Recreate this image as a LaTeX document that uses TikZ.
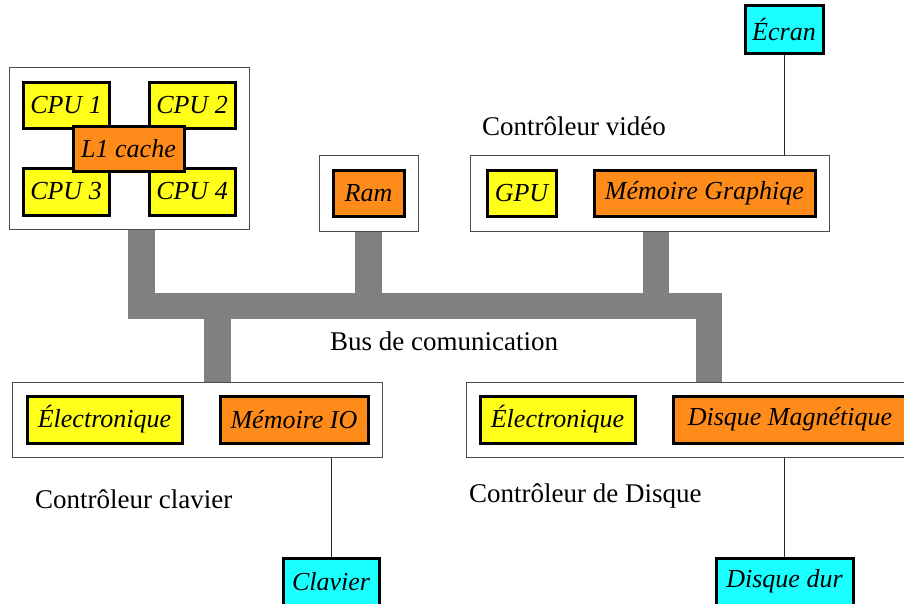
\documentclass[tikz,border=0pt]{standalone}
\usepackage{fontspec}
\setmainfont{Liberation Serif}
\usetikzlibrary{backgrounds}
\definecolor{yel}{RGB}{255,255,26}
\definecolor{ora}{RGB}{255,140,26}
\definecolor{cya}{RGB}{26,255,255}
\definecolor{busgray}{RGB}{128,128,128}
\begin{document}
\begin{tikzpicture}[x=1pt,y=-1pt,
  outerbox/.style={draw=black!70, line width=1pt, fill=white, inner sep=0pt},
  innerbox/.style={draw=black, line width=3pt, inner sep=0pt, font=\fontsize{26}{30}\selectfont\itshape},
  yelbox/.style={innerbox, fill=yel},
  orabox/.style={innerbox, fill=ora},
  cyabox/.style={innerbox, fill=cya},
  bus/.style={draw=busgray, line width=26.5pt, line join=miter},
  wire/.style={draw=black!85, line width=1pt},
  lbl/.style={font=\fontsize{27}{31}\selectfont, inner sep=0pt}
]
\useasboundingbox (0,0) rectangle (904,603);
\clip (0,0) rectangle (904,603);

% CPU block
\node[outerbox, minimum width=240pt, minimum height=162pt] (cpuouter) at (129,148) {};
\node[yelbox, minimum width=86pt, minimum height=46pt] (cpu1) at (66,105) {CPU 1};
\node[yelbox, minimum width=86pt, minimum height=46pt] (cpu2) at (192,105) {CPU 2};
\node[yelbox, minimum width=86pt, minimum height=47pt] (cpu3) at (66,191.5) {CPU 3};
\node[yelbox, minimum width=86pt, minimum height=47pt] (cpu4) at (192,191.5) {CPU 4};
\node[orabox, minimum width=111pt, minimum height=45pt] (l1) at (128.5,148.5) {L1 cache};

% RAM
\node[outerbox, minimum width=99pt, minimum height=76pt] (ramouter) at (368.5,193) {};
\node[orabox, minimum width=71pt, minimum height=46pt] (ram) at (368.5,193) {Ram};

% Video
\node[outerbox, minimum width=359pt, minimum height=76pt] (vidouter) at (649.5,193) {};
\node[yelbox, minimum width=69pt, minimum height=46pt] (gpu) at (521.5,193) {GPU};
\node[orabox, minimum width=221pt, minimum height=46pt] (memg) at (704.5,193) {Mémoire Graphiqe};
\node[lbl, anchor=west] (vidlbl) at (482,126) {Contrôleur vidéo};
\node[cyabox, minimum width=78pt, minimum height=48pt] (ecran) at (784,29) {Écran};

% Keyboard controller
\node[outerbox, minimum width=370pt, minimum height=75pt] (kbouter) at (197,419.5) {};
\node[yelbox, minimum width=155pt, minimum height=47pt] (elec1) at (104.5,419.5) {Électronique};
\node[orabox, minimum width=148pt, minimum height=47pt] (memio) at (294,419.5) {Mémoire IO};
\node[lbl, anchor=west] (kblbl) at (35,499) {Contrôleur clavier};
\node[cyabox, minimum width=96pt, minimum height=47pt] (clavier) at (331,581.5) {Clavier};

% Disk controller
\node[outerbox, minimum width=455pt, minimum height=75pt] (diskouter) at (693.5,419.5) {};
\node[yelbox, minimum width=155pt, minimum height=47pt] (elec2) at (557.5,419.5) {Électronique};
\node[orabox, minimum width=234pt, minimum height=47pt] (dmag) at (790,419.5) {Disque Magnétique};
\node[lbl, anchor=west] (disklbl) at (469,496) {Contrôleur de Disque};
\node[cyabox, minimum width=137pt, minimum height=47pt] (ddur) at (784.5,581.5) {Disque dur};

% Bus label
\node[lbl] (buslbl) at (444,341) {Bus de comunication};

% Bus
\coordinate (busR) at (709,306);
\begin{pgfonlayer}{background}
\draw[bus] ([xshift=12.5pt]cpuouter.south) |- (busR) -- ([xshift=15.5pt]diskouter.north);
\draw[bus] (ramouter.south) -- (ramouter.south |- busR);
\draw[bus] ([xshift=6.5pt]vidouter.south) -- ([xshift=6.5pt]vidouter.south |- busR);
\draw[bus] ([xshift=20.5pt]kbouter.north) -- ([xshift=20.5pt]kbouter.north |- busR);
\end{pgfonlayer}

% Wires
\draw[wire] (ecran.south) -- (ecran.south |- vidouter.north);
\draw[wire] (clavier.north) -- (clavier.north |- kbouter.south);
\draw[wire] (ddur.north) -- (ddur.north |- diskouter.south);
\end{tikzpicture}
\end{document}
